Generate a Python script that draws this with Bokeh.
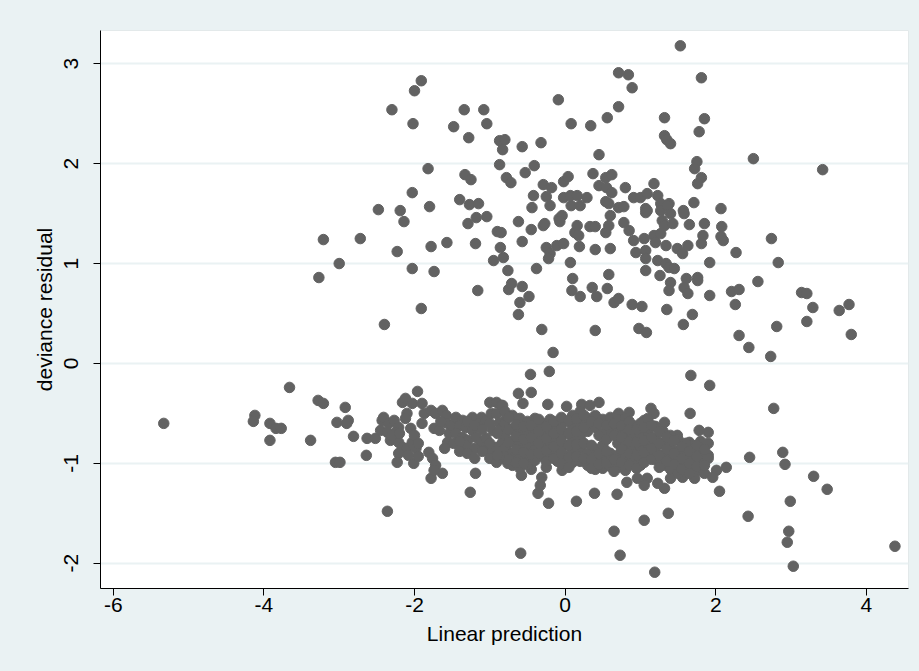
import math
from bokeh.plotting import figure
from bokeh.models import Range1d, FixedTicker
from bokeh.embed import file_html
from bokeh.resources import INLINE

# ---------------- data ----------------
x_ticks = [-6, -4, -2, 0, 2, 4]
x_tick_labels = ["-6", "-4", "-2", "0", "2", "4"]
y_ticks = [-2, -1, 0, 1, 2, 3]
y_tick_labels = ["-2", "-1", "0", "1", "2", "3"]

# upper band (positive residuals)
up_left_x = [-1.91, -2.00, -2.30, -2.02, -1.34, -1.08, -1.48, -1.04, -1.28, -0.87, -0.80, -0.83,
             -0.87, -0.78, -1.82, -1.33, -1.25, -2.03, -1.40, -1.27, -1.15, -1.80, -2.48, -2.19,
             -2.14, -1.29, -1.18, -1.04, -0.90, -0.86, -0.82, -0.95, -0.76, -0.75, -1.19, -1.57,
             -1.78, -2.23, -2.72, -3.21, -3.00, -3.27, -2.03, -1.74, -1.16, -1.91, -2.40]
up_left_y = [2.83, 2.73, 2.54, 2.40, 2.54, 2.54, 2.37, 2.40, 2.26, 2.23, 2.24, 2.14,
             1.99, 1.86, 1.95, 1.89, 1.84, 1.71, 1.64, 1.59, 1.60, 1.57, 1.54, 1.53,
             1.42, 1.40, 1.46, 1.47, 1.32, 1.16, 1.06, 1.03, 0.93, 0.74, 1.20, 1.21,
             1.17, 1.12, 1.25, 1.24, 1.00, 0.86, 0.95, 0.92, 0.73, 0.55, 0.39]

up_mid_x = [1.53, 0.71, 0.84, 0.89, 1.81, -0.09, 0.71, 0.56, 0.08, 0.34, 1.32, 1.85,
            1.78, 1.32, 1.35, 1.40, -0.57, -0.32, -0.72, -0.53, -0.41, 0.45, 1.75, 1.72,
            1.81, 1.76, 1.71, 1.18, 0.80, 0.37, 0.54, 0.62, 0.45, 0.55, 0.62, -0.02,
            0.04, -0.29, -0.18, -0.42, -0.25, -0.20, -0.02, 0.07, 0.16, 0.29, 0.08, 0.20,
            0.54, 0.58, 0.71, 0.78, 0.91, 1.00, 1.09, 1.23, 1.27, 1.38, 1.07, -0.44, 1.57]
up_mid_y = [3.18, 2.91, 2.89, 2.76, 2.86, 2.64, 2.57, 2.46, 2.40, 2.38, 2.46, 2.45,
            2.32, 2.28, 2.24, 2.20, 2.17, 2.21, 1.81, 1.91, 1.98, 2.09, 2.02, 1.95,
            1.86, 1.80, 1.61, 1.80, 1.76, 1.90, 1.86, 1.89, 1.78, 1.76, 1.71, 1.82,
            1.87, 1.79, 1.76, 1.68, 1.67, 1.58, 1.66, 1.68, 1.68, 1.66, 1.58, 1.58,
            1.62, 1.60, 1.56, 1.57, 1.66, 1.66, 1.70, 1.68, 1.60, 1.60, 1.55, 1.56, 1.53]

up_low_x = [-0.62, -0.45, -0.29, -0.27, -0.08, -0.04, -0.07, -0.57, -0.85, -0.25, -0.20, -0.22,
            -0.11, -0.02, 0.13, 0.16, 0.18, 0.19, 0.33, 0.40, 0.40, 0.60, 0.54, 0.58,
            0.60, 0.78, 0.85, 0.91, 1.05, 0.94, 1.07, 1.07, 1.07, 1.09, 1.18, 1.20,
            1.27, 1.34, 1.27, 1.36, 1.40, 1.29, 1.32, 1.43, 1.58, 1.65, 1.49, 1.56,
            1.63, 1.81, 1.83, 1.85, 1.23, 1.34, 1.38, 1.45, 1.07, 1.26, 1.40, 1.38,
            1.61, 1.58, 1.63, 1.76, 1.76, 1.92, 1.92, -0.38, 0.07, 0.10, 0.09, 0.20,
            0.36, 0.42, 0.56, 0.58, 0.65, 0.71, 0.89, 1.02, -0.71, -0.57, -0.48, -0.60,
            -0.62, -0.31, 0.40, 0.98, 1.08, 1.35, 1.69, 1.57, -0.16]
up_low_y = [1.42, 1.34, 1.38, 1.40, 1.45, 1.48, 1.42, 1.22, 1.31, 1.16, 1.10, 1.05,
            1.18, 1.20, 1.31, 1.38, 1.28, 1.17, 1.37, 1.37, 1.14, 1.15, 1.31, 1.38,
            1.48, 1.41, 1.33, 1.23, 1.25, 1.11, 1.13, 1.05, 1.51, 1.53, 1.28, 1.21,
            1.30, 1.18, 1.53, 1.58, 1.50, 1.43, 1.38, 1.40, 1.50, 1.39, 1.15, 1.10,
            1.18, 1.20, 1.28, 1.40, 1.03, 1.00, 0.96, 0.95, 0.93, 0.88, 0.81, 0.73,
            0.85, 0.76, 0.70, 0.86, 0.83, 1.01, 0.68, 0.95, 1.01, 0.85, 0.73, 0.67,
            0.76, 0.67, 0.75, 0.89, 0.61, 0.65, 0.59, 0.57, 0.80, 0.77, 0.67, 0.61,
            0.49, 0.34, 0.33, 0.35, 0.31, 0.54, 0.49, 0.39, 0.11]

up_right_x = [2.50, 3.42, 2.07, 2.08, 2.07, 2.10, 2.27, 2.74, 2.83, 2.56, 2.21, 2.31,
              2.26, 3.14, 3.21, 3.29, 3.64, 3.77, 3.21, 2.81, 3.80, 2.31, 2.44, 2.73]
up_right_y = [2.05, 1.94, 1.55, 1.37, 1.27, 1.23, 1.11, 1.25, 1.01, 0.82, 0.72, 0.74,
              0.59, 0.71, 0.70, 0.56, 0.53, 0.59, 0.42, 0.37, 0.29, 0.28, 0.16, 0.07]

# lower band (negative residuals)
lo_left_x = [-5.33, -3.66, -4.12, -4.14, -3.92, -3.84, -3.77, -3.92, -3.38,
             -3.28, -3.21, -2.92, -3.03, -2.88, -2.90, -2.81, -3.05, -2.99, -2.64, -2.63,
             -2.52, -2.45, -2.43, -2.41, -2.34, -2.27, -2.21, -2.25, -2.32, -2.36, -2.16,
             -2.12, -2.03, -1.96, -2.10, -2.12, -2.21, -2.16, -2.10, -2.03, -1.98, -2.21,
             -2.23, -2.01, -1.90, -1.87, -1.90, -1.78, -1.72, -1.63, -1.58, -1.74, -1.67,
             -1.56, -1.54, -1.56, -1.81, -1.76, -1.72, -1.78, -1.63, -1.74, -2.36, -1.26,
             -1.19, -2.30, -2.20, -2.05, -2.00, -1.95, -2.08, -1.95, -1.65, -1.50, -1.60,
             -1.48, -0.21, -0.46]
lo_left_y = [-0.60, -0.24, -0.52, -0.58, -0.60, -0.65, -0.65, -0.77, -0.77,
             -0.37, -0.40, -0.44, -0.59, -0.57, -0.60, -0.73, -0.99, -0.99, -0.92, -0.75,
             -0.75, -0.67, -0.57, -0.54, -0.60, -0.57, -0.64, -0.69, -0.77, -0.69, -0.39,
             -0.35, -0.40, -0.28, -0.50, -0.55, -0.79, -0.84, -0.85, -0.79, -0.85, -0.90,
             -0.99, -1.00, -0.40, -0.50, -0.60, -0.47, -0.50, -0.47, -0.52, -0.65, -0.67,
             -0.60, -0.70, -0.79, -0.89, -0.95, -1.02, -1.15, -1.10, -1.07, -1.48, -1.29,
             -1.10, -0.72, -0.70, -0.65, -0.72, -0.80, -0.92, -0.93, -0.58, -0.62, -0.85,
             -0.80, -0.08, -0.11]

lo_mid_x = [-1.45, -1.36, -1.23, -1.11, -1.40, -1.32, -1.23, -1.14, -1.05, -0.98, -1.00, -0.91,
            -0.85, -0.91, -0.87, -0.96, -0.83, -0.78, -1.45, -1.36, -1.29, -1.18, -1.11, -1.05,
            -1.32, -1.20, -1.07, -0.98, -0.91, -0.83, -1.00, -0.91, -0.83, -0.76, -0.78,
            -0.62, -0.45, -0.56, -0.83, -0.23, 0.02, 0.22, 0.33, 0.45, 0.71, 0.85, 1.14,
            1.18, 1.66, 1.32, 1.05, 1.78, 1.90, 1.49, 1.65, 1.69, 1.90, 1.81, 1.76, 1.85,
            1.72, 1.40, 1.56, 1.32, 1.23, 1.09, 0.96, 1.05, 0.82, 0.69, 0.39, 0.15, -0.22,
            -0.36, -0.33, -0.31, -0.58, -0.45, -0.25, -0.04, 1.00, -0.38, 1.92, 1.67]
lo_mid_y = [-0.54, -0.57, -0.54, -0.54, -0.62, -0.64, -0.67, -0.60, -0.57, -0.50, -0.39, -0.39,
            -0.42, -0.50, -0.59, -0.67, -0.64, -0.55, -0.70, -0.74, -0.77, -0.74, -0.79, -0.75,
            -0.82, -0.85, -0.87, -0.90, -0.84, -0.79, -0.95, -0.99, -0.95, -1.00, -0.87,
            -0.30, -0.29, -0.40, -0.42, -0.41, -0.43, -0.41, -0.42, -0.39, -0.50, -0.49, -0.45,
            -0.50, -0.50, -0.59, -0.57, -0.67, -0.69, -0.72, -0.79, -0.82, -0.92, -0.97, -1.07, -1.10,
            -1.15, -1.15, -1.14, -1.25, -1.20, -1.15, -1.15, -1.22, -1.19, -1.31, -1.30, -1.38, -1.40,
            -1.30, -1.22, -1.14, -1.12, -1.06, -1.04, -1.07, -1.02, -0.90, -0.22, -0.12]

# dense core of the lower band
core_x = [-0.80, -0.80, -0.80, -0.80, -0.80,
          -0.70, -0.70, -0.70, -0.70, -0.70,
          -0.60, -0.60, -0.60, -0.60, -0.60,
          -0.50, -0.50, -0.50, -0.50, -0.50,
          -0.40, -0.40, -0.40, -0.40, -0.40,
          -0.30, -0.30, -0.30, -0.30,
          -0.20, -0.20, -0.20, -0.20,
          -0.10, -0.10, -0.10, -0.10,
          0.00, 0.00, 0.00, 0.00, 0.00,
          0.10, 0.10, 0.10, 0.10, 0.10,
          0.20, 0.20, 0.20, 0.20, 0.20,
          0.30, 0.30, 0.30, 0.30,
          0.40, 0.40, 0.40, 0.40, 0.40,
          0.50, 0.50, 0.50, 0.50, 0.50,
          0.60, 0.60, 0.60, 0.60,
          0.70, 0.70, 0.70, 0.70, 0.70,
          0.80, 0.80, 0.80, 0.80, 0.80,
          0.90, 0.90, 0.90, 0.90,
          1.00, 1.00, 1.00, 1.00,
          1.10, 1.10, 1.10, 1.10,
          1.20, 1.20, 1.20, 1.20,
          1.30, 1.30, 1.30, 1.30,
          1.40, 1.40, 1.40, 1.40,
          1.50, 1.50, 1.50, 1.50,
          1.60, 1.60, 1.60,
          1.70, 1.70, 1.70,
          1.80, 1.80, 1.80,
          1.90, 1.90]
core_y = [-0.48, -0.60, -0.72, -0.85, -0.93,
          -0.52, -0.66, -0.78, -0.90, -1.02,
          -0.55, -0.68, -0.80, -0.94, -1.05,
          -0.58, -0.70, -0.83, -0.95, -1.01,
          -0.55, -0.66, -0.78, -0.86, -0.97,
          -0.60, -0.72, -0.84, -0.93,
          -0.56, -0.67, -0.79, -0.90,
          -0.62, -0.74, -0.86, -0.98,
          -0.58, -0.70, -0.82, -0.93, -1.03,
          -0.52, -0.64, -0.76, -0.88, -0.99,
          -0.48, -0.60, -0.73, -0.85, -0.98,
          -0.55, -0.68, -0.90, -1.02,
          -0.52, -0.64, -0.86, -0.97, -1.06,
          -0.56, -0.70, -0.82, -0.94, -1.05,
          -0.54, -0.66, -0.90, -1.03,
          -0.56, -0.68, -0.80, -0.92, -1.04,
          -0.55, -0.70, -0.83, -0.95, -1.07,
          -0.62, -0.74, -0.86, -0.97,
          -0.60, -0.72, -0.84, -0.94,
          -0.55, -0.68, -0.80, -0.91,
          -0.63, -0.75, -0.86, -0.96,
          -0.68, -0.80, -0.92, -1.02,
          -0.72, -0.84, -0.95, -1.06,
          -0.76, -0.88, -1.00, -1.10,
          -0.80, -0.92, -1.04,
          -0.86, -0.96, -1.08,
          -0.78, -0.90, -1.00,
          -0.80, -0.95]

core2_x = [-1.40, -1.40, -1.30, -1.30, -1.20, -1.20, -1.10, -1.10, -1.00, -1.00, -0.90, -0.90,
           -0.75, -0.75, -0.75, -0.75, -0.65, -0.65, -0.65, -0.65, -0.55, -0.55, -0.55, -0.55,
           -0.45, -0.45, -0.45, -0.35, -0.35, -0.35, -0.35, -0.25, -0.25, -0.25, -0.25,
           -0.15, -0.15, -0.15, -0.15, -0.05, -0.05, -0.05, -0.05, -0.05,
           0.05, 0.05, 0.05, 0.05, 0.05, 0.15, 0.15, 0.15, 0.15, 0.25, 0.25, 0.25, 0.25,
           0.35, 0.35, 0.35, 0.35, 0.45, 0.45, 0.45, 0.45, 0.55, 0.55, 0.55, 0.55,
           0.65, 0.65, 0.65, 0.65, 0.75, 0.75, 0.75, 0.75, 0.85, 0.85, 0.85, 0.85, 0.85,
           0.95, 0.95, 0.95, 0.95, 1.05, 1.05, 1.05, 1.05, 1.15, 1.15, 1.15, 1.15,
           1.25, 1.25, 1.25, 1.25, 1.35, 1.35, 1.35, 1.45, 1.45, 1.45, 1.55, 1.55, 1.55,
           1.65, 1.65, 1.65, 1.75, 1.75, 1.75, 1.85, 1.85]
core2_y = [-0.78, -0.88, -0.58, -0.90, -0.62, -0.95, -0.66, -0.88, -0.60, -0.80, -0.70, -0.92,
           -0.54, -0.66, -0.79, -0.96, -0.61, -0.73, -0.86, -0.99, -0.63, -0.76, -0.89, -1.00,
           -0.62, -0.74, -0.91, -0.56, -0.68, -0.80, -0.90, -0.63, -0.75, -0.87, -0.98,
           -0.58, -0.70, -0.83, -0.95, -0.54, -0.66, -0.78, -0.90, -1.00,
           -0.57, -0.70, -0.82, -0.94, -1.04, -0.55, -0.68, -0.81, -0.93, -0.52, -0.64, -0.80, -0.95,
           -0.58, -0.82, -0.96, -1.05, -0.60, -0.72, -0.90, -1.01, -0.62, -0.76, -0.88, -1.00,
           -0.60, -0.72, -0.96, -1.08, -0.62, -0.74, -0.86, -0.99, -0.58, -0.66, -0.78, -0.90, -1.02,
           -0.66, -0.79, -0.92, -1.05, -0.64, -0.77, -0.89, -0.99, -0.62, -0.74, -0.85, -0.96,
           -0.68, -0.80, -0.92, -1.04, -0.74, -0.86, -0.98, -0.77, -0.90, -1.01, -0.83, -0.95, -1.06,
           -0.88, -1.00, -1.10, -0.82, -0.93, -1.03, -0.86, -1.02]

lo_right_x = [2.77, 2.45, 2.89, 2.92, 2.14, 2.01, 1.96, 2.05, 3.30, 3.48, 2.99, 2.43,
              2.97, 2.95, 3.03, 4.38, 1.37, 1.05, 0.65, 0.73, -0.59, 1.19]
lo_right_y = [-0.45, -0.94, -0.89, -1.01, -1.04, -1.07, -1.14, -1.28, -1.13, -1.26, -1.38, -1.53,
              -1.68, -1.79, -2.03, -1.83, -1.50, -1.57, -1.68, -1.92, -1.90, -2.09]

groups = [(up_left_x, up_left_y), (up_mid_x, up_mid_y), (up_low_x, up_low_y),
          (up_right_x, up_right_y), (lo_left_x, lo_left_y), (lo_mid_x, lo_mid_y),
          (core_x, core_y), (core2_x, core2_y), (lo_right_x, lo_right_y)]

# ---------------- styling ----------------
BG = "#EAF2F3"
GRID = "#EAF2F3"
MARK = "#626262"
FONT = "Liberation Sans"

p = figure(width=919, height=671, output_backend="svg", toolbar_location=None,
           x_range=Range1d(-6.17, 4.56), y_range=Range1d(-2.253, 3.333),
           min_border_left=100, min_border_right=11, min_border_top=30, min_border_bottom=83,
           background_fill_color="white", border_fill_color=BG)
p.outline_line_color = "#E3E9EA"
p.outline_line_width = 1

for gx, gy in groups:
    p.scatter(gx, gy, size=10.5, marker="circle", fill_color=MARK, line_color=MARK)

p.xgrid.visible = False
p.ygrid.grid_line_color = GRID
p.ygrid.grid_line_width = 2
p.ygrid.ticker = FixedTicker(ticks=y_ticks)

for ax in (p.xaxis[0], p.yaxis[0]):
    ax.axis_line_color = "black"
    ax.axis_line_width = 1
    ax.major_tick_line_color = "black"
    ax.major_tick_out = 7
    ax.major_tick_in = 0
    ax.minor_tick_out = 0
    ax.minor_tick_in = 0
    ax.major_label_text_font = FONT
    ax.major_label_text_font_size = "21px"
    ax.major_label_text_color = "black"
    ax.axis_label_text_font = FONT
    ax.axis_label_text_font_size = "21px"
    ax.axis_label_text_font_style = "normal"
    ax.axis_label_text_color = "black"

p.xaxis[0].ticker = FixedTicker(ticks=x_ticks)
p.yaxis[0].ticker = FixedTicker(ticks=y_ticks)
p.xaxis[0].major_label_overrides = {t: s for t, s in zip(x_ticks, x_tick_labels)}
p.yaxis[0].major_label_overrides = {t: s for t, s in zip(y_ticks, y_tick_labels)}
p.xaxis[0].axis_label = "Linear prediction"
p.yaxis[0].axis_label = "deviance residual"
p.xaxis[0].major_label_standoff = 2
p.xaxis[0].axis_label_standoff = 7
p.yaxis[0].major_label_orientation = "vertical"
p.yaxis[0].major_label_standoff = 15
p.yaxis[0].axis_label_standoff = 6

html = file_html(p, INLINE)
html = html.replace("</head>", "<style>body{background-color:%s;}</style></head>" % BG, 1)
open("out.html", "w").write(html)
